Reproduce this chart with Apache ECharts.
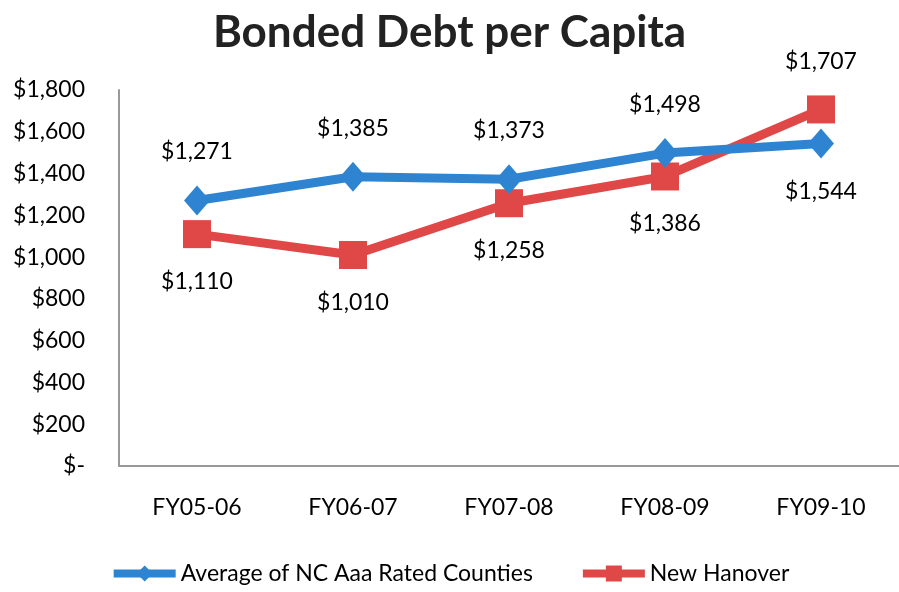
<!doctype html>
<html lang="en">
  <head>
    <meta charset="UTF-8" />
    <title>Bonded Debt per Capita</title>
    <script src="https://cdn.jsdelivr.net/npm/echarts@6/dist/echarts.min.js"></script>
    <style>
      html, body { margin: 0; padding: 0; background: #fff; }
      #chart { width: 899px; height: 592px; }
    </style>
  </head>
  <body>
    <div id="chart"></div>
    <script>
      // Data
      var categories = ['FY05-06', 'FY06-07', 'FY07-08', 'FY08-09', 'FY09-10'];
      var ncAverage = [1271, 1385, 1373, 1498, 1544];
      var newHanover = [1110, 1010, 1258, 1386, 1707];
      var seriesNames = ['Average of NC Aaa Rated Counties', 'New Hanover'];
      // label above (true) or below (false) for each point
      var ncAbove = [true, true, true, true, false];
      var nhAbove = [false, false, false, false, true];

      var font = 'Lato';
      var blue = '#2f84d2';
      var red = '#e04848';
      var money = function (v) {
        if (v === 0) return '$-';
        return '$' + v.toLocaleString('en-US');
      };

      function pointData(values, above) {
        return values.map(function (v, i) {
          return {
            value: v,
            label: { position: above[i] ? 'top' : 'bottom' }
          };
        });
      }

      var chart = echarts.init(document.getElementById('chart'), null, { renderer: 'canvas' });

      chart.setOption({
        animation: false,
        backgroundColor: '#fff',
        title: {
          text: 'Bonded Debt per Capita',
          left: 'center',
          top: 6,
          textStyle: { fontFamily: font, fontSize: 44, fontWeight: 'bold', color: '#222' }
        },
        legend: {
          bottom: 2,
          left: 'center',
          itemWidth: 62,
          itemHeight: 20,
          itemGap: 46,
          textStyle: { fontFamily: font, fontSize: 23, color: '#000' },
          data: [
            { name: seriesNames[0], lineStyle: { width: 8 } },
            { name: seriesNames[1], lineStyle: { width: 8 } }
          ]
        },
        grid: { left: 119, right: -8, top: 90, bottom: 126, containLabel: false },
        xAxis: {
          type: 'category',
          data: categories,
          axisLine: { lineStyle: { color: '#999', width: 2 } },
          axisTick: { show: false },
          axisLabel: { fontFamily: font, fontSize: 23, color: '#000', margin: 30 }
        },
        yAxis: {
          type: 'value',
          min: 0,
          max: 1800,
          interval: 200,
          axisLine: { show: true, lineStyle: { color: '#999', width: 2 } },
          axisTick: { show: false },
          splitLine: { show: false },
          axisLabel: {
            fontFamily: font, fontSize: 23, color: '#000', margin: 34,
            formatter: money
          }
        },
        series: [
          {
            name: seriesNames[0],
            type: 'line',
            data: pointData(ncAverage, ncAbove),
            symbol: 'diamond',
            symbolSize: [26, 30],
            itemStyle: { color: blue },
            lineStyle: { width: 9, color: blue },
            z: 3,
            label: {
              show: true, distance: 22,
              fontFamily: font, fontSize: 23, color: '#000',
              formatter: function (p) { return money(p.value); }
            }
          },
          {
            name: seriesNames[1],
            type: 'line',
            data: pointData(newHanover, nhAbove),
            symbol: 'rect',
            symbolSize: 28,
            itemStyle: { color: red },
            lineStyle: { width: 9, color: red },
            z: 2,
            label: {
              show: true, distance: 22,
              fontFamily: font, fontSize: 23, color: '#000',
              formatter: function (p) { return money(p.value); }
            }
          }
        ]
      });
    </script>
  </body>
</html>
